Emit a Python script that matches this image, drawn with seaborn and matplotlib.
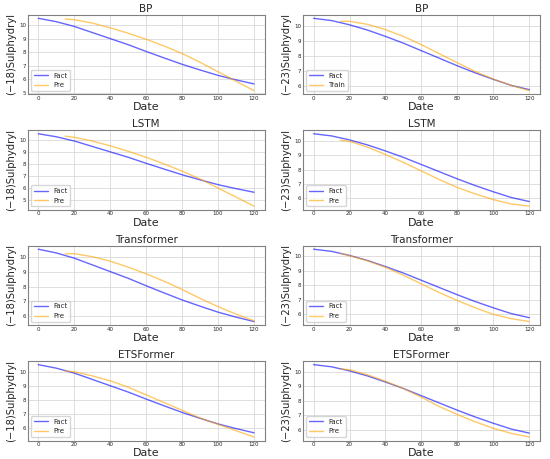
import numpy as np
import pandas as pd
import matplotlib
matplotlib.use("Agg")
import matplotlib.pyplot as plt
import seaborn as sns

# ---- data ----
date_fact = [0, 10, 20, 30, 40, 50, 60, 70, 80, 90, 100, 110, 120]
date_pre = [15, 20, 30, 40, 50, 60, 70, 80, 90, 100, 110, 120]

fact_18 = [10.5, 10.25, 9.9, 9.45, 9.0, 8.55, 8.05, 7.57, 7.1, 6.68, 6.28, 5.95, 5.65]
fact_23 = [10.5, 10.35, 10.07, 9.72, 9.3, 8.85, 8.35, 7.85, 7.35, 6.88, 6.45, 6.05, 5.77]

bp_18 = [10.45, 10.4, 10.15, 9.8, 9.4, 8.95, 8.45, 7.9, 7.25, 6.55, 5.85, 5.15]
bp_23 = [10.3, 10.3, 10.1, 9.75, 9.3, 8.75, 8.15, 7.55, 6.97, 6.47, 6.05, 5.7]
lstm_18 = [10.3, 10.2, 9.9, 9.5, 9.05, 8.55, 8.0, 7.4, 6.75, 6.0, 5.25, 4.5]
lstm_23 = [10.05, 9.97, 9.57, 9.05, 8.5, 7.9, 7.3, 6.75, 6.3, 5.9, 5.6, 5.45]
trans_18 = [10.2, 10.2, 10.0, 9.7, 9.3, 8.85, 8.35, 7.8, 7.2, 6.65, 6.15, 5.7]
trans_23 = [10.2, 10.05, 9.7, 9.25, 8.7, 8.1, 7.5, 6.95, 6.45, 6.0, 5.7, 5.5]
ets_18 = [10.05, 10.0, 9.7, 9.35, 8.9, 8.35, 7.8, 7.25, 6.7, 6.25, 5.8, 5.35]
ets_23 = [10.2, 10.15, 9.8, 9.35, 8.85, 8.25, 7.6, 7.05, 6.55, 6.1, 5.75, 5.5]

titles = ["BP", "LSTM", "Transformer", "ETSFormer"]
ylabels = ["(\u221218)Sulphydryl", "(\u221223)Sulphydryl"]
pre_left = [bp_18, lstm_18, trans_18, ets_18]
pre_right = [bp_23, lstm_23, trans_23, ets_23]
pre_names_left = ["Pre", "Pre", "Pre", "Pre"]
pre_names_right = ["Train", "Pre", "Pre", "Pre"]

sns.set_theme(style="whitegrid")
plt.rcParams['font.family'] = ['DejaVu Sans']

fig, axes = plt.subplots(4, 2, figsize=(5.5, 4.59), dpi=100)
fig.subplots_adjust(left=0.05, right=0.982, top=0.968, bottom=0.04,
                    wspace=0.16, hspace=0.45)

for r in range(4):
    for c in range(2):
        ax = axes[r, c]
        fact = fact_18 if c == 0 else fact_23
        pre = pre_left[r] if c == 0 else pre_right[r]
        pname = pre_names_left[r] if c == 0 else pre_names_right[r]
        sns.lineplot(x=date_fact, y=fact, ax=ax, color="blue", alpha=0.6,
                     linewidth=1.0, label="Fact")
        sns.lineplot(x=date_pre, y=pre, ax=ax, color="orange", alpha=0.6,
                     linewidth=1.0, label=pname)
        ax.set_title(titles[r], fontsize=7.5, pad=2)
        ax.set_xlabel("Date", fontsize=8, labelpad=1)
        ax.set_ylabel(ylabels[c], fontsize=7.2, labelpad=2)
        ax.set_xticks([0, 20, 40, 60, 80, 100, 120])
        ax.tick_params(labelsize=4, pad=1, length=0)
        ax.grid(True, color="#d9d9d9", linewidth=0.6)
        for s in ax.spines.values():
            s.set_color("#808080")
            s.set_linewidth(0.8)
        ax.legend(loc="lower left", fontsize=5, frameon=True,
                  handlelength=2.0, borderpad=0.4, labelspacing=0.5)

fig.savefig("out.png", dpi=100)
